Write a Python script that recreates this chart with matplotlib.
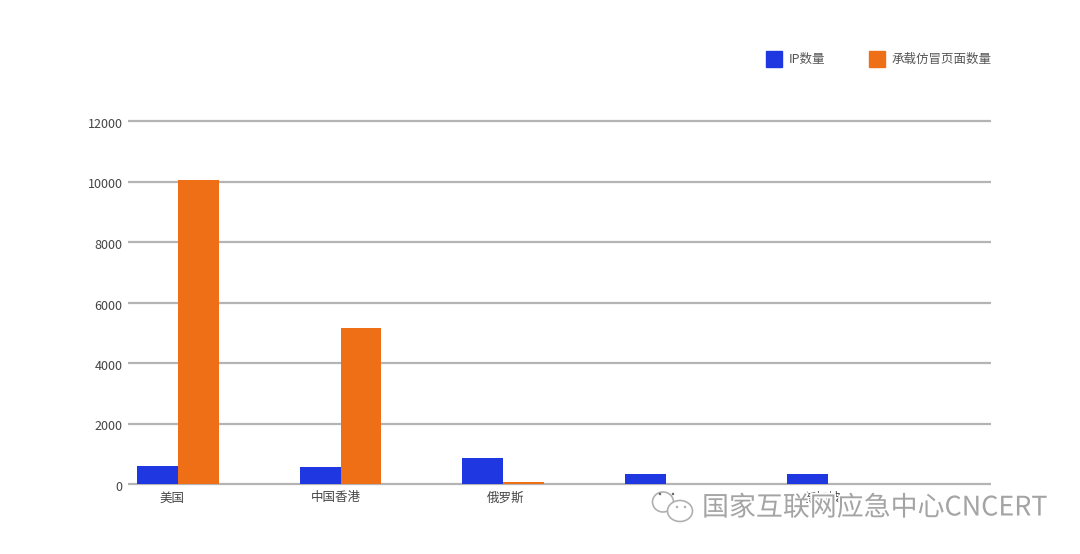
import matplotlib
matplotlib.use('Agg')
import matplotlib.pyplot as plt
import matplotlib.patheffects as pe
from matplotlib.patches import Ellipse, Rectangle
from matplotlib.transforms import ScaledTranslation

plt.rcParams['font.family'] = ['Noto Sans CJK SC', 'DejaVu Sans']

# values, the 4th label is hidden under the watermark
regions = ['美国', '中国香港', '俄罗斯', '', '新加坡']
ip_count = [600, 560, 860, 330, 320]
page_count = [10040, 5170, 60, 10, 10]
yticks = [0, 2000, 4000, 6000, 8000, 10000, 12000]
label_x = [172, 336, 506, 666, 822]

W, H = 1080, 554
fig = plt.figure(figsize=(W / 100, H / 100), dpi=100)
ax = fig.add_axes([128 / W, 1 - 484 / H, 863 / W, 363 / H])

unit = 162.5
x = list(range(len(regions)))
width = 41 / unit
ax.bar([i - width / 2 for i in x], ip_count, width, color='#1f37e0', zorder=3)
ax.bar([i + width / 2 for i in x], page_count, width, color='#ee6f16', zorder=3)

ax.set_xlim(-50 / unit, 813 / unit)
ax.set_ylim(0, 12000)
ax.set_yticks(yticks)
ax.set_xticks([])
ax.tick_params(axis='y', length=0, labelsize=9, labelcolor='#444444', pad=6)
for s in ax.spines.values():
    s.set_visible(False)
for v in yticks:
    ax.axhline(v, color='#b4b4b4', linewidth=1.6, zorder=1, clip_on=False, solid_capstyle='butt')

# tick labels sit a little under their lines and closer to the axis
shift = ScaledTranslation(3 / 100, -2 / 100, fig.dpi_scale_trans)
for t in ax.get_yticklabels():
    t.set_transform(t.get_transform() + shift)

for name, px in zip(regions, label_x):
    fig.text(px / W, 1 - 498 / H, name, ha='center', va='center', fontsize=9, color='#444444')

# legend
for px, c in [(766, '#1f37e0'), (869, '#ee6f16')]:
    fig.patches.append(Rectangle((px / W, 1 - 67 / H), 16 / W, 16 / H, transform=fig.transFigure, color=c))
fig.text(789 / W, 1 - 59 / H, 'IP数量', fontsize=9, color='#555555', va='center')
fig.text(892 / W, 1 - 59 / H, '承载仿冒页面数量', fontsize=9, color='#555555', va='center')

# watermark, white outline hides what is under it
fig.text(702 / W, 1 - 508 / H, '国家互联网应急中心CNCERT', fontsize=19.4, color='#a4a4a4', va='center', zorder=10,
         path_effects=[pe.withStroke(linewidth=2.5, foreground='#ffffff')])
for cx, cy, w, h in [(663, 502, 21, 20), (680, 511, 25, 21)]:
    fig.patches.append(Ellipse((cx / W, 1 - cy / H), w / W, h / H, transform=fig.transFigure,
                               fc='#ffffff', ec='#b0b0b0', lw=1.2, zorder=9))
for cx, cy, c in [(660, 494, '#666666'), (673, 494, '#666666'), (677, 507, '#b0b0b0'), (685, 507, '#b0b0b0')]:
    fig.patches.append(Ellipse((cx / W, 1 - cy / H), 2.5 / W, 2.5 / H, transform=fig.transFigure,
                               fc=c, ec='none', zorder=10))

fig.savefig('out.png', dpi=100)
